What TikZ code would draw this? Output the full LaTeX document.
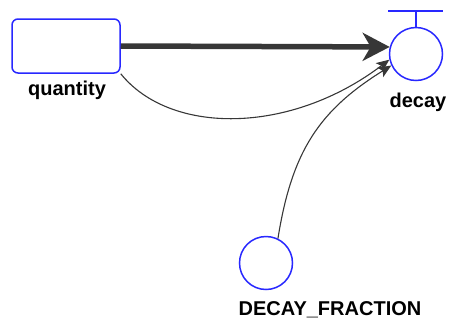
\documentclass[tikz,border=0pt]{standalone}
\usepackage{fontspec}
\setmainfont{Liberation Sans}
\usetikzlibrary{arrows.meta}
\definecolor{vblue}{RGB}{40,40,255}
\definecolor{vgray}{RGB}{55,55,55}
\tikzset{
  stockbox/.style={draw=vblue,line width=1.5pt,rounded corners=6pt,minimum width=108pt,minimum height=54pt,inner sep=0pt},
  auxcirc/.style={draw=vblue,line width=1.5pt,circle,minimum size=53pt,inner sep=0pt},
  lbl/.style={font=\fontsize{20}{22}\selectfont\bfseries,anchor=base,inner sep=0pt},
  flowarrow/.style={draw=vgray,line width=5.5pt,-{Stealth[length=27pt,width=28pt,inset=8pt]}},
  linkarrow/.style={draw=vgray,line width=1.1pt,-{Stealth[length=13pt,width=11pt,inset=3pt]}}
}
\begin{document}
\begin{tikzpicture}[x=1pt,y=-1pt]
\useasboundingbox (0,0) rectangle (450,322);
\node[stockbox] (quantity) at (66,46) {};
\node[auxcirc] (decay) at (416,54) {};
\node[auxcirc] (df) at (266,263) {};
\node[lbl] (ql) at (67,95) {quantity};
\node[lbl] (dl) at (418,107) {decay};
\node[lbl] (dfl) at (330,315) {DECAY\_FRACTION};
\coordinate (tb) at (416,11);
\coordinate (tbl) at (388,11);
\coordinate (tbr) at (443,11);
\draw[vblue,line width=1.5pt] (decay.north) -- (tb);
\draw[vblue,line width=1.5pt] (tbl) -- (tbr);
\draw[flowarrow] (quantity.east) -- (decay.165);
\draw[linkarrow] (quantity.south east) .. controls (170,135) and (290,135) .. (decay.192);
\draw[linkarrow] (df.64) .. controls (292,150) and (320,110) .. (decay.205);
\end{tikzpicture}
\end{document}
